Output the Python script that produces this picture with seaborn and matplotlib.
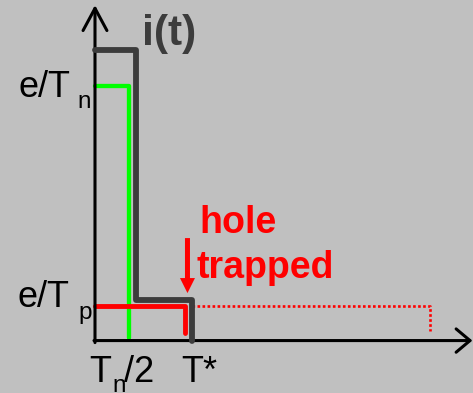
import matplotlib
matplotlib.use("Agg")
import matplotlib.pyplot as plt
import seaborn as sns

# Time in units of T_n/2, current in units of e/T_n
t_half = 1.0      # T_n/2 : electron transit ends
t_drop = 1.21     # total current drops to the hole plateau
t_trap = 2.66     # hole gets trapped
t_star = 2.85     # T*
t_free = 9.85     # hole transit had it not been trapped
i_peak = 1.14     # electrons + hole
i_n = 1.0         # e/T_n
i_tail = 0.161    # hole-only plateau of i(t)
i_p = 0.134       # e/T_p

total_t = [0.0, t_drop, t_drop, t_star, t_star]
total_i = [i_peak, i_peak, i_tail, i_tail, 0.0]
elec_t = [0.0, t_half, t_half]
elec_i = [i_n, i_n, 0.01]
hole_t = [0.0, t_trap, t_trap]
hole_i = [i_p, i_p, 0.03]
ghost_t = [t_star, t_free, t_free]
ghost_i = [i_p, i_p, 0.037]

x_min, x_max = -2.794, 11.118
y_min, y_max = -0.206, 1.338
x_tip, y_tip = 11.1, 1.318

BG = "#c0c0c0"
DARK = "#3c3c3c"
RED = "#ff0000"
GREEN = "#00ff00"

sns.set_theme(style="white")
plt.rcParams["font.family"] = ["Liberation Sans", "DejaVu Sans"]

fig = plt.figure(figsize=(4.73, 3.93), dpi=100, facecolor=BG)
ax = fig.add_axes([0, 0, 1, 1], facecolor=BG)
ax.set_xlim(x_min, x_max)
ax.set_ylim(y_min, y_max)
ax.set_axis_off()

# axes with open arrow heads
ax.annotate("", xy=(0, y_tip), xytext=(0, -0.008), xycoords="data",
            arrowprops=dict(arrowstyle="->,head_length=0.8,head_width=0.43",
                            mutation_scale=20, lw=2.2, color="black",
                            shrinkA=0, shrinkB=0), zorder=5)
ax.annotate("", xy=(x_tip, 0), xytext=(-0.03, 0), xycoords="data",
            arrowprops=dict(arrowstyle="->,head_length=0.5,head_width=0.42",
                            mutation_scale=20, lw=2.2, color="black",
                            shrinkA=0, shrinkB=0), zorder=5)

# current traces
sns.lineplot(x=elec_t, y=elec_i, sort=False, estimator=None, color=GREEN,
             lw=3.1, ax=ax, zorder=3)
sns.lineplot(x=hole_t, y=hole_i, sort=False, estimator=None, color=RED,
             lw=3.5, ax=ax, zorder=4)
sns.lineplot(x=ghost_t, y=ghost_i, sort=False, estimator=None, color=RED,
             lw=1.9, linestyle=(0, (1, 0.9)), ax=ax, zorder=4)
sns.lineplot(x=total_t, y=total_i, sort=False, estimator=None, color=DARK,
             lw=4.2, ax=ax, zorder=6)

# labels
MAIN = 26
SUB = 17.5


def put(text, x, y, dx, dy, size=MAIN, ha="left", **kw):
    ax.annotate(text, xy=(x, y), xycoords="data", xytext=(dx, dy),
                textcoords="offset pixels", ha=ha, va="baseline",
                fontsize=size, **kw)


put("e/T", 0, i_n, -24, -11, ha="right", color="black")
put("n", 0, i_n, -18, -21.5, size=SUB, color="black")
put("e/T", 0, i_p, -25, -0.5, ha="right", color="black")
put("p", 0, i_p, -17, -13, size=SUB, color="black")

put("T", t_half, 0, -40, -41.5, color="black")
put("n", t_half, 0, -17, -51.5, size=SUB, color="black")
put("/2", t_half, 0, -4.5, -41.5, color="black")
put("T*", t_star, 0, -11, -41.5, color="black")

put("i(t)", t_drop, i_peak, 6, 5.5, size=30.5, fontweight="bold", color=DARK)

put("hole", t_star, i_p, 7, 73.5, size=27, fontweight="bold", color=RED)
put("trapped", t_star, i_p, 5, 28.5, size=27, fontweight="bold", color=RED)

# arrow marking the trapping instant
ax.annotate("", xy=(t_trap + 0.06, i_tail), xycoords="data",
            xytext=(0, 61.5), textcoords="offset pixels",
            arrowprops=dict(arrowstyle="simple,head_length=0.54,head_width=0.54,tail_width=0.18",
                            mutation_scale=20, lw=0, color=RED,
                            shrinkA=0, shrinkB=4.7), zorder=7)

fig.savefig("out.png", dpi=100, facecolor=BG)
